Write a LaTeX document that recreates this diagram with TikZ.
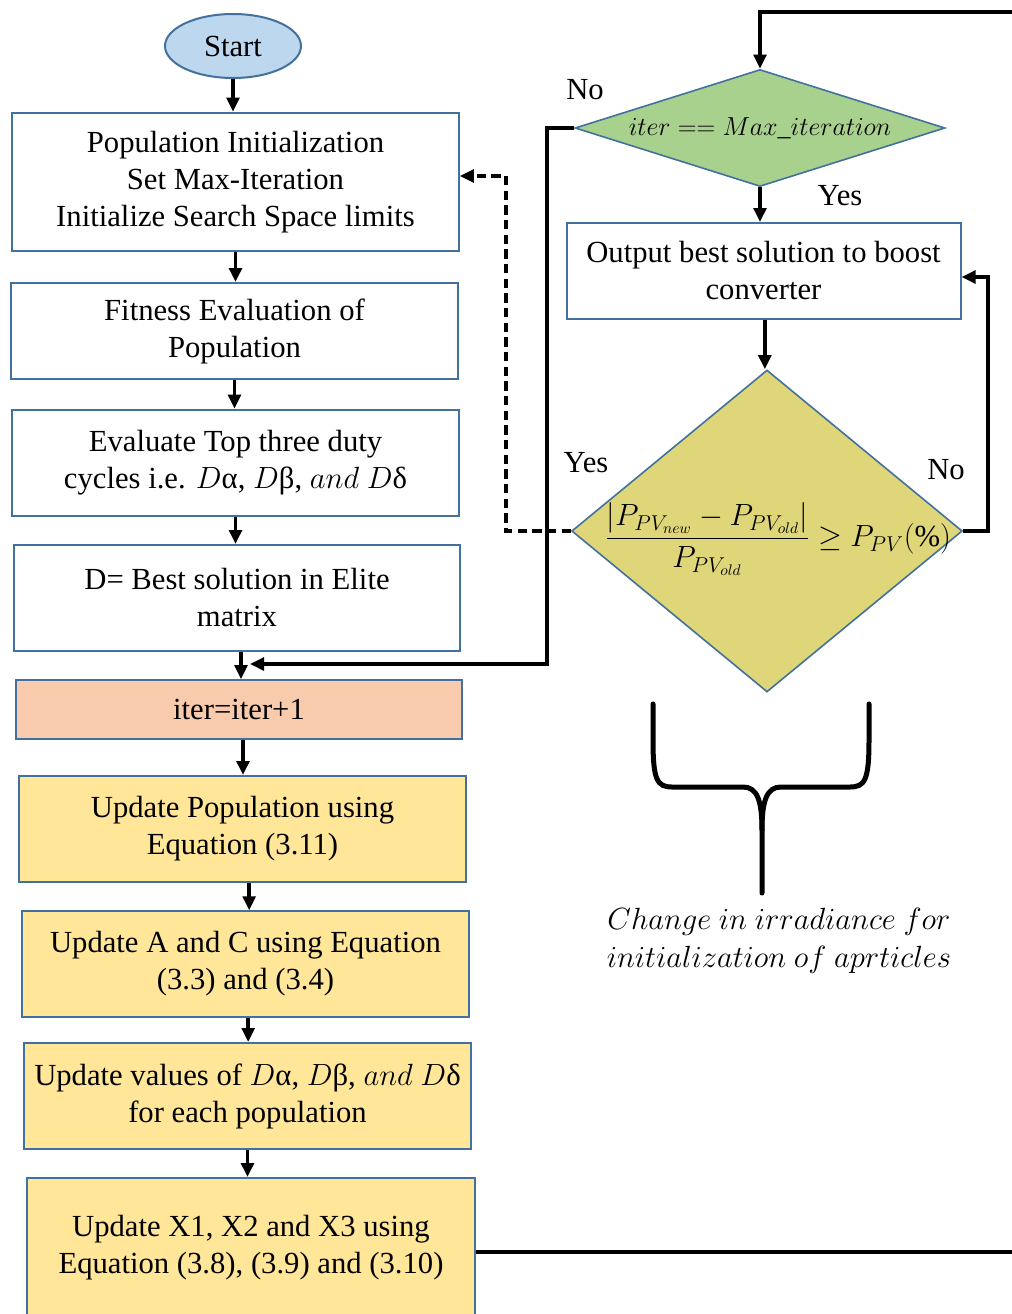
\documentclass[tikz,border=0pt]{standalone}
\usepackage{fix-cm}
\usepackage{amsmath}
\usepackage{fontspec}
\setmainfont{Liberation Serif}
\usetikzlibrary{shapes.geometric,arrows.meta}

\definecolor{boxblue}{RGB}{65,113,156}
\definecolor{startfill}{RGB}{189,215,238}
\definecolor{iterfill}{RGB}{248,203,173}
\definecolor{updfill}{RGB}{255,230,153}
\definecolor{maxfill}{RGB}{169,209,142}
\definecolor{chkfill}{RGB}{223,214,122}

\newcommand{\flowfont}{\fontsize{23}{27.75}\selectfont}

\tikzset{every picture/.style={line width=0.75pt},
  procbox/.style={draw=boxblue,line width=1.5pt,align=center,inner sep=2pt,font=\flowfont,minimum width=335pt},
  decision/.style={draw=boxblue,line width=1.2pt,diamond,inner sep=0pt},
  plaintxt/.style={align=center,inner sep=0pt,font=\flowfont},
  conn/.style={line width=2.6pt,-{Triangle[length=10.5pt,width=9.5pt]}},
  wire/.style={line width=2.6pt},
  dashconn/.style={conn,dash pattern=on 7pt off 4pt},
  brace/.style={line width=3.75pt,line cap=round}}

\begin{document}
\begin{tikzpicture}[x=0.75pt,y=0.75pt,yscale=-1,xscale=1]
\useasboundingbox (0,0) rectangle (1012,1314);

% Text Node
\node[draw=boxblue,line width=1.5pt,fill=startfill,ellipse,minimum width=102pt,minimum height=48pt,font=\flowfont] (start) at (233,46) {Start};
% Text Node
\node[procbox,minimum height=104pt] (init) at (235.5,182) {Population Initialization\\Set Max-Iteration\\Initialize Search Space limits};
% Text Node
\node[procbox,minimum height=72pt] (fit) at (234.5,331) {Fitness Evaluation of\\Population};
% Text Node
\node[procbox,minimum height=80pt] (top3) at (235.5,463) {Evaluate Top three duty\\cycles i.e. $D$α, $D$β, $and\ D$δ};
% Text Node
\node[procbox,minimum height=79.5pt] (best) at (237,598) {D= Best solution in Elite\\matrix};
% Text Node
\node[procbox,fill=iterfill,minimum height=44pt] (iter) at (239,709.5) {iter=iter+1};
% Text Node
\node[procbox,fill=updfill,minimum height=79.5pt] (upd1) at (242.5,829) {Update Population using\\Equation (3.11)};
% Text Node
\node[procbox,fill=updfill,minimum height=79pt] (upd2) at (245.5,964) {Update A and C using Equation\\(3.3) and (3.4)};
% Text Node
\node[procbox,fill=updfill,minimum height=79.5pt] (upd3) at (247.5,1096) {Update values of $D$α, $D$β, $and\ D$δ\\for each population};
% Text Node
\node[procbox,fill=updfill,minimum height=105pt,minimum width=336pt] (upd4) at (251,1248) {Update X1, X2 and X3 using\\Equation (3.8), (3.9) and (3.10)};

% Text Node
\node[decision,fill=maxfill,minimum width=277.5pt,minimum height=87.75pt] (maxit) at (760,128) {};
\node[plaintxt,font=\fontsize{19.5}{24}\selectfont] (maxittxt) at (maxit) {$iter == Max\_iteration$};
% Text Node
\node[procbox,minimum width=295.5pt,minimum height=72pt] (out) at (763.5,271) {Output best solution to boost\\converter};
% Text Node
\node[decision,fill=chkfill,minimum width=293pt,minimum height=241.5pt] (chk) at (767,531) {};
\node[plaintxt] (chktxt) at (778,539) {$\dfrac{\left|P_{PV_{new}}-P_{PV_{old}}\right|}{P_{PV_{old}}}\geq P_{PV}(\%)$};

% Text Node
\node[plaintxt] (no1) at (585,90) {No};
\node[plaintxt] (yes1) at (840,196) {Yes};
\node[plaintxt] (yes2) at (586,463) {Yes};
\node[plaintxt] (no2) at (946,470) {No};

% Text Node
\node[plaintxt,font=\fontsize{23}{28.5}\selectfont] (irr) at (779,941) {$Change\ in\ irradiance\ for$\\$initialization\ of\ aprticles$};

\coordinate (edgeT) at (1012,12);
\coordinate (edgeB) at (1012,1252);
\coordinate (merge) at (250,664);

% Connection
\draw[conn] (start.south) -- (start.south |- init.north);
\draw[conn] (init.south) -- (init.south |- fit.north);
\draw[conn] (fit.south) -- (fit.south |- top3.north);
\draw[conn] (top3.south) -- (top3.south |- best.north);
\draw[conn] ([xshift=3pt]best.south) -- ([xshift=3pt]best.south |- iter.north);
\draw[conn] ([xshift=3pt]iter.south) -- ([xshift=3pt]iter.south |- upd1.north);
\draw[conn] ([xshift=5pt]upd1.south) -- ([xshift=5pt]upd1.south |- upd2.north);
\draw[conn] ([xshift=2pt]upd2.south) -- ([xshift=2pt]upd2.south |- upd3.north);
\draw[conn] (upd3.south) -- (upd3.south |- upd4.north);

% Connection
\draw[conn] (edgeT) -| (maxit.north);
\draw[conn] (maxit.south) -- (maxit.south |- out.north);
\draw[conn] ([xshift=1pt]out.south) -- ([xshift=1pt]out.south |- chk.north);
\draw[conn] (maxit.west) -- ++(-27,0) |- (merge);
\draw[conn] (chk.east) -- ++(25,0) |- ([yshift=4.5pt]out.east);
\draw[dashconn] (chk.west) -- ++(-65,0) |- ([yshift=-4.5pt]init.east);
\draw[wire] (upd4.east |- edgeB) -- (edgeB);

% Brace
\draw[brace] (653,704) -- (653,740) .. controls (653,780) and (657,787) .. (672,787) -- (743,787) .. controls (757,787) and (762,800) .. (762,830) -- (762,893);
\draw[brace] (869,704) -- (869,740) .. controls (869,780) and (865,787) .. (850,787) -- (781,787) .. controls (767,787) and (762,800) .. (762,830);

\end{tikzpicture}
\end{document}
